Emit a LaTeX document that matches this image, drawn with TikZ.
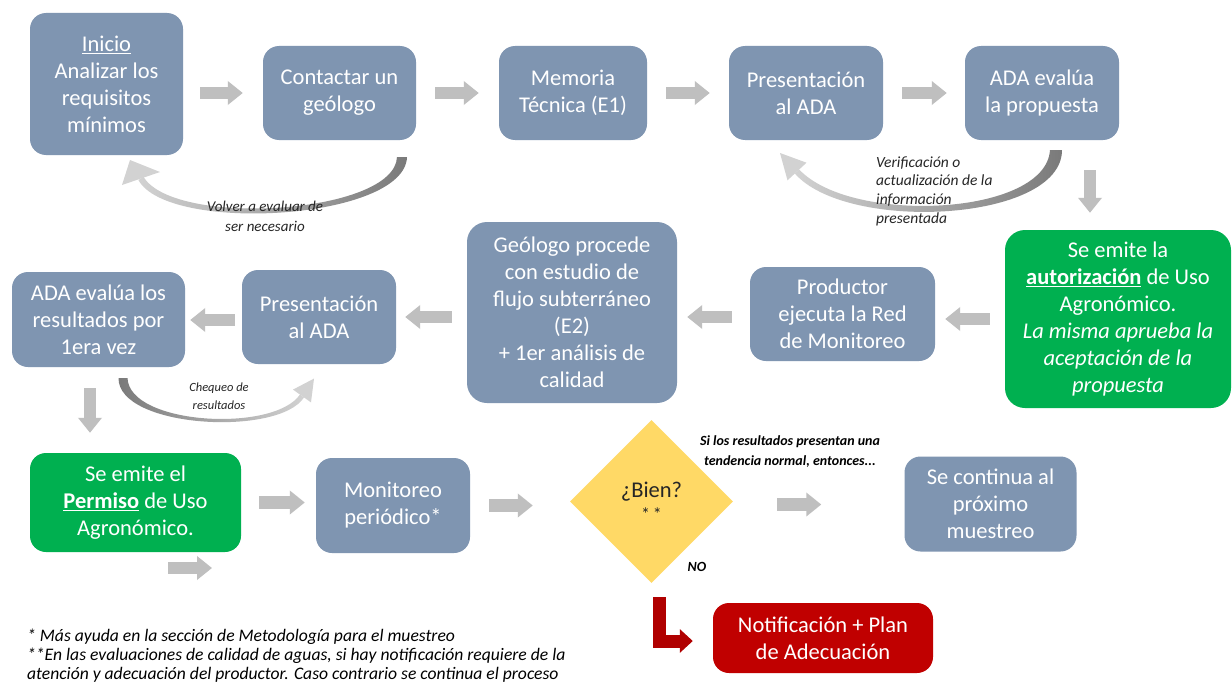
\documentclass[tikz,border=0pt]{standalone}
\usepackage{fontspec}
\setmainfont{Carlito}
\usetikzlibrary{arrows.meta,shapes.geometric,calc}
\definecolor{slate}{HTML}{7F95B1}
\definecolor{okgreen}{HTML}{00B050}
\definecolor{alertred}{HTML}{C00000}
\definecolor{darkred}{HTML}{B00000}
\definecolor{gold}{HTML}{FFD966}
\definecolor{arrowgray}{HTML}{BFBFBF}
\definecolor{curvelight}{HTML}{D2D2D2}
\definecolor{curvedark}{HTML}{7A7A7A}
\definecolor{inkdark}{HTML}{262626}
\newcommand\bxfont{\fontsize{22.5}{27}\selectfont}
\begin{document}
\begin{tikzpicture}[x=1pt,y=-1pt,
  box/.style={rounded corners=16pt, fill=slate, text=white, align=center, font=\bxfont, inner sep=2pt},
  greenbox/.style={box, fill=okgreen},
  redbox/.style={box, fill=alertred},
  blockarrow/.style={draw=arrowgray, line width=12.5pt, -{Triangle[length=15pt,width=23pt]}},
  lbl/.style={text=inkdark, font=\fontsize{15}{20}\selectfont\itshape, inner sep=0pt},
  boldlbl/.style={text=black, font=\fontsize{14}{20}\selectfont\bfseries\itshape, inner sep=0pt},
  note/.style={anchor=base west, inner sep=0pt, text=black, font=\fontsize{17.6}{19}\selectfont\itshape}
]
\path[use as bounding box, fill=white] (0,0) rectangle (1232,685);

% row 1
\node[box, minimum width=153pt, minimum height=142pt] (inicio) at (106.5,84)
  {\underline{Inicio}\\Analizar los\\requisitos\\mínimos};
\node[box, minimum width=153pt, minimum height=94pt] (contactar) at (339.5,93)
  {Contactar un\\geólogo};
\node[box, minimum width=148pt, minimum height=94pt] (memoria) at (573,93)
  {Memoria\\Técnica (E1)};
\node[box, minimum width=154pt, minimum height=94pt] (pres1) at (806,93)
  {Presentación\\al ADA};
\node[box, minimum width=154pt, minimum height=94pt] (adaeval) at (1042,93)
  {ADA evalúa\\la propuesta};

% row 2
\node[greenbox, rounded corners=20pt, minimum width=226pt, minimum height=178pt] (green1) at (1118,319)
  {Se emite la\\\textbf{\underline{autorización}} de Uso\\Agronómico.\\\textit{La misma aprueba la}\\\textit{aceptación de la}\\\textit{propuesta}};
\node[box, minimum width=185pt, minimum height=94pt] (productor) at (842.5,314)
  {Productor\\ejecuta la Red\\de Monitoreo};
\node[box, rounded corners=20pt, minimum width=210pt, minimum height=181pt] (geologo) at (572,312.5)
  {Geólogo procede\\con estudio de\\flujo subterráneo\\(E2)\\+ 1er análisis de\\calidad};
\node[box, minimum width=154pt, minimum height=94pt] (pres2) at (319,317)
  {Presentación\\al ADA};
\node[box, minimum width=173pt, minimum height=95pt] (adaeval2) at (98.5,319.5)
  {ADA evalúa los\\resultados por\\1era vez};

% row 3
\node[greenbox, minimum width=211pt, minimum height=99pt] (permiso) at (135.5,502.5)
  {Se emite el\\\textbf{\underline{Permiso}} de Uso\\Agronómico.};
\node[box, minimum width=154pt, minimum height=95pt] (monitoreo) at (393,505.5)
  {Monitoreo\\periódico*};
\node[diamond, fill=gold, minimum width=163pt, minimum height=163pt, inner sep=0pt,
  text=inkdark, align=center, font=\bxfont] (bien) at (651.5,501.5) {¿Bien?\\[-4pt]{\fontsize{18}{20}\selectfont *\,*}};
\node[box, minimum width=172pt, minimum height=95pt] (continua) at (990.5,504)
  {Se continua al\\próximo\\muestreo};
\node[redbox, minimum width=220pt, minimum height=70pt] (notif) at (823,638)
  {Notificación + Plan\\de Adecuación};

% straight block arrows
\draw[blockarrow, shorten <=17pt, shorten >=20pt] (inicio.east |- contactar.west) -- (contactar.west);
\draw[blockarrow, shorten <=19pt, shorten >=20pt] (contactar.east) -- (memoria.west);
\draw[blockarrow, shorten <=19pt, shorten >=19pt] (memoria.east) -- (pres1.west);
\draw[blockarrow, shorten <=19pt, shorten >=18pt] (pres1.east) -- (adaeval.west);
\draw[blockarrow, shorten <=30pt, shorten >=17pt] ([xshift=48pt]adaeval.south) -- ([xshift=48pt]adaeval.south |- green1.north);
\draw[blockarrow, shorten <=15pt, shorten >=10pt] (green1.west) -- (green1.west -| productor.east);
\draw[blockarrow, shorten <=18pt, shorten >=10pt] ([yshift=-3pt]productor.west) -- ([yshift=-3pt]productor.west -| geologo.east);
\draw[blockarrow, shorten <=15pt, shorten >=9pt] (pres2.east -| geologo.west) -- (pres2.east);
\draw[blockarrow, shorten <=7pt, shorten >=5pt] ([yshift=-3pt]pres2.west) -- ([yshift=-3pt]pres2.west -| adaeval2.east);
\draw[blockarrow, shorten <=21pt, shorten >=20pt] ([xshift=-8.5pt]adaeval2.south) -- ([xshift=-8.5pt]adaeval2.south |- permiso.north);
\draw[blockarrow, shorten <=18pt, shorten >=11pt] (permiso.east) -- (permiso.east -| monitoreo.west);
\draw[blockarrow, shorten <=19pt, shorten >=37pt] (monitoreo.east) -- (monitoreo.east -| bien.west);
\draw[blockarrow, shorten <=44pt, shorten >=83pt] ([yshift=-3pt]bien.east) -- ([yshift=-3pt]bien.east -| continua.west);
\coordinate (s1) at (168,568);
\coordinate (s2) at (212,568);
\draw[blockarrow] (s1) -- (s2);

% red L arrow
\draw[draw=darkred, line width=13pt, -{Triangle[length=13pt,width=23pt]}]
  ([xshift=8pt,yshift=-14pt]bien.south) |- ([xshift=-20pt,yshift=-3pt]notif.west);

% curved arrows
\shade[left color=curvelight, right color=curvedark]
  (397,157) .. controls (395,214) and (175,228) .. (143.6,177) -- (138.4,180)
  .. controls (168,234) and (405,220) .. (407,157) -- cycle;
\fill[curvelight] (122,185) -- (130,160) -- (160,172) -- cycle;

\shade[left color=curvelight, right color=curvedark]
  (1050,150) .. controls (1046,216) and (851,225) .. (799.2,169.5) -- (794.8,173.5)
  .. controls (847,233) and (1062,222) .. (1062,150) -- cycle;
\fill[curvelight] (806.5,162.7) -- (780,153) -- (787.5,180.3) -- cycle;

\shade[left color=curvedark, right color=curvelight]
  (127.5,378) .. controls (129,425) and (274,433) .. (300,394.5) -- (304,397.5)
  .. controls (278,437) and (118,428) .. (118.5,378) -- cycle;
\fill[curvelight] (311,402.4) -- (314,378.6) -- (293,389.6) -- cycle;

% labels
\node[lbl, align=center] (lvolver) at (265,216) {Volver a evaluar de\\ser necesario};
\node[lbl, align=left, anchor=west, font=\fontsize{15.5}{18.7}\selectfont\itshape] (lverif) at (876,191) {Verificación o\\actualización de la\\información\\presentada};
\node[lbl, align=center, font=\fontsize{12.5}{18}\selectfont\itshape] (lcheq) at (219,396) {Chequeo de\\resultados};
\node[boldlbl, align=center] (lsi) at (790,452) {Si los resultados presentan una\\tendencia normal, entonces...};
\node[boldlbl] (lno) at (697,567) {NO};

% footnotes
\node[note] (note1) at (27,641) {* Más ayuda en la sección de Metodología para el muestreo};
\node[note] (note2) at (27,660) {**En las evaluaciones de calidad de aguas, si hay notificación requiere de la};
\node[note] (note3) at (27,679) {atención y adecuación del productor. Caso contrario se continua el proceso};
\end{tikzpicture}
\end{document}
